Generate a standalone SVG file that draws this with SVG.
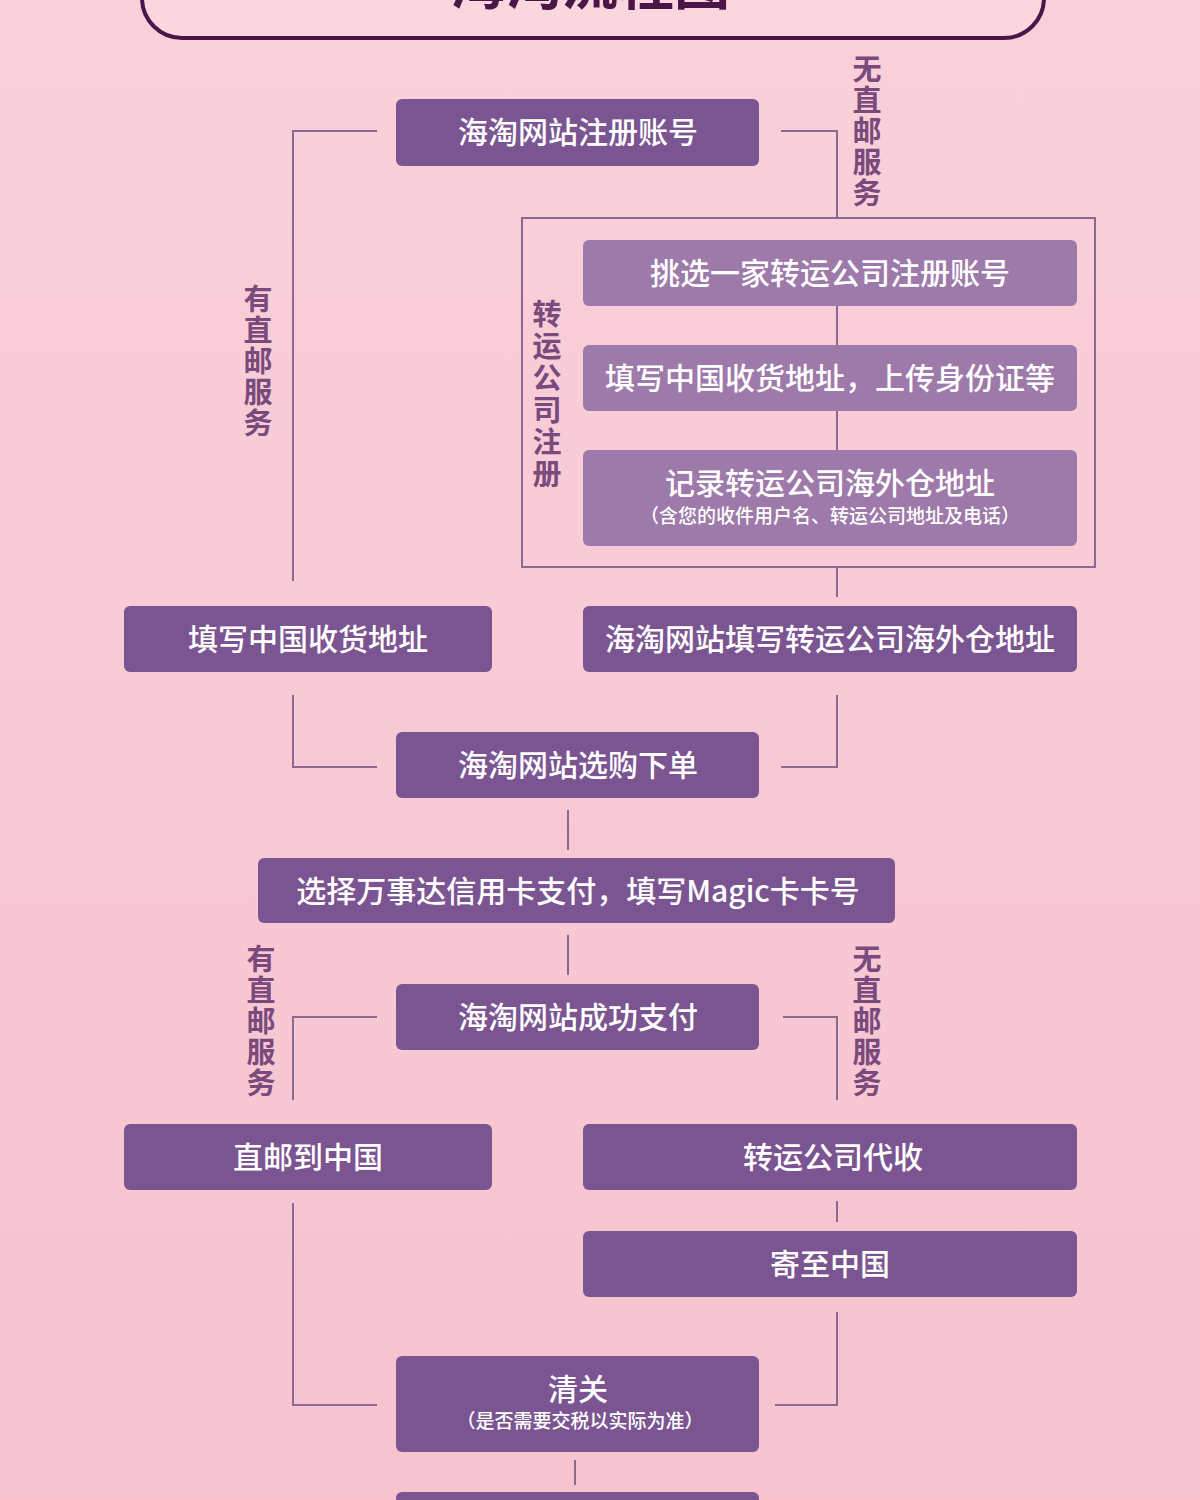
<svg xmlns="http://www.w3.org/2000/svg" width="1200" height="1500" viewBox="0 0 1200 1500">
<defs>
<linearGradient id="bg" x1="0" y1="0" x2="0" y2="1"><stop offset="0" stop-color="#f9d0da"/><stop offset="1" stop-color="#f6c3cf"/></linearGradient>
<style>
.n{fill:#7b5591}
.l{fill:#9d7aa9}
.t{fill:#fff;font-family:"Noto Sans CJK SC",sans-serif;font-size:30px;font-weight:500;text-anchor:middle}
.s{fill:#fff;font-family:"Noto Sans CJK SC",sans-serif;font-size:19px;font-weight:500;text-anchor:middle}
.v{fill:#7a4a7c;font-family:"Noto Sans CJK SC",sans-serif;font-size:29px;font-weight:700;text-anchor:middle}
.c{fill:none;stroke:#8c6a8e;stroke-width:2}
</style>
</defs>
<rect width="1200" height="1500" fill="url(#bg)"/>
<g id="title">
<rect x="142" y="-60" width="902" height="98" rx="40" fill="#fbd6de" stroke="#4a1648" stroke-width="4"/>
<text x="590" y="4" font-family="Noto Sans CJK SC,sans-serif" font-size="56" font-weight="700" fill="#4a1648" text-anchor="middle">海淘流程图</text>
</g>
<g id="connectors">
<path class="c" d="M377 131H293V581"/>
<path class="c" d="M781 131H837V218"/>
<path class="c" d="M837 306V345M837 411V450M837 567V597"/>
<rect x="522" y="218" width="573" height="349" class="c" stroke-width="1.5"/>
<path class="c" d="M293 695V767H377"/>
<path class="c" d="M837 695V767H781"/>
<path class="c" d="M568 810V850M568 935V975"/>
<path class="c" d="M377 1017H293V1100"/>
<path class="c" d="M783 1017H837V1100"/>
<path class="c" d="M293 1203V1405H377"/>
<path class="c" d="M837 1201V1222"/>
<path class="c" d="M837 1312V1405H775"/>
<path class="c" d="M575 1460V1485"/>
</g>
<g id="labels">
<text class="v"><tspan x="867" y="80">无</tspan><tspan x="867" y="111">直</tspan><tspan x="867" y="142">邮</tspan><tspan x="867" y="173">服</tspan><tspan x="867" y="204">务</tspan></text>
<text class="v"><tspan x="258" y="310">有</tspan><tspan x="258" y="341">直</tspan><tspan x="258" y="372">邮</tspan><tspan x="258" y="403">服</tspan><tspan x="258" y="434">务</tspan></text>
<text class="v"><tspan x="547" y="325">转</tspan><tspan x="547" y="357">运</tspan><tspan x="547" y="389">公</tspan><tspan x="547" y="421">司</tspan><tspan x="547" y="453">注</tspan><tspan x="547" y="485">册</tspan></text>
<text class="v"><tspan x="261" y="970">有</tspan><tspan x="261" y="1001">直</tspan><tspan x="261" y="1032">邮</tspan><tspan x="261" y="1063">服</tspan><tspan x="261" y="1094">务</tspan></text>
<text class="v"><tspan x="867" y="970">无</tspan><tspan x="867" y="1001">直</tspan><tspan x="867" y="1032">邮</tspan><tspan x="867" y="1063">服</tspan><tspan x="867" y="1094">务</tspan></text>
</g>
<g id="n1"><rect class="n" x="396" y="99" width="363" height="67" rx="6"/><text class="t" x="578" y="143">海淘网站注册账号</text></g>
<g id="g1"><rect class="l" x="583" y="240" width="494" height="66" rx="6"/><text class="t" x="830" y="284">挑选一家转运公司注册账号</text></g>
<g id="g2"><rect class="l" x="583" y="345" width="494" height="66" rx="6"/><text class="t" x="830" y="389">填写中国收货地址，上传身份证等</text></g>
<g id="g3"><rect class="l" x="583" y="450" width="494" height="96" rx="6"/><text class="t" x="830" y="494">记录转运公司海外仓地址</text><text class="s" x="830" y="523">（含您的收件用户名、转运公司地址及电话）</text></g>
<g id="n2"><rect class="n" x="124" y="606" width="368" height="66" rx="6"/><text class="t" x="308" y="650">填写中国收货地址</text></g>
<g id="n3"><rect class="n" x="583" y="606" width="494" height="66" rx="6"/><text class="t" x="830" y="650">海淘网站填写转运公司海外仓地址</text></g>
<g id="n4"><rect class="n" x="396" y="732" width="363" height="66" rx="6"/><text class="t" x="578" y="776">海淘网站选购下单</text></g>
<g id="n5"><rect class="n" x="258" y="858" width="637" height="65" rx="6"/><text class="t" x="578" y="902">选择万事达信用卡支付，填写Magic卡卡号</text></g>
<g id="n6"><rect class="n" x="396" y="984" width="363" height="66" rx="6"/><text class="t" x="578" y="1028">海淘网站成功支付</text></g>
<g id="n7"><rect class="n" x="124" y="1124" width="368" height="66" rx="6"/><text class="t" x="308" y="1168">直邮到中国</text></g>
<g id="n8"><rect class="n" x="583" y="1124" width="494" height="66" rx="6"/><text class="t" x="833" y="1168">转运公司代收</text></g>
<g id="n9"><rect class="n" x="583" y="1231" width="494" height="66" rx="6"/><text class="t" x="830" y="1275">寄至中国</text></g>
<g id="n10"><rect class="n" x="396" y="1356" width="363" height="96" rx="6"/><text class="t" x="578" y="1400">清关</text><text class="s" x="580" y="1428">（是否需要交税以实际为准）</text></g>
<g id="n11"><rect class="n" x="396" y="1492" width="363" height="60" rx="6"/></g>
</svg>
